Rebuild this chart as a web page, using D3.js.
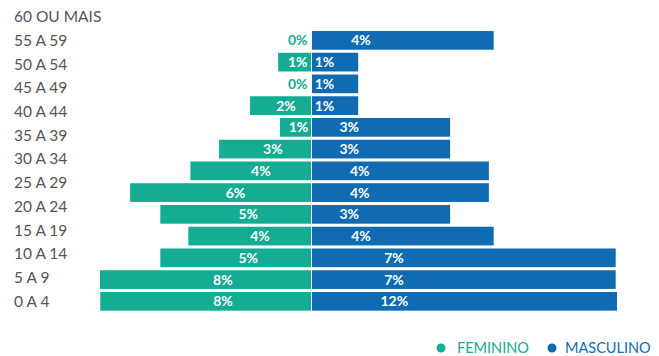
<!DOCTYPE html>
<html>
<head>
<meta charset="utf-8">
<script src="https://cdn.jsdelivr.net/npm/d3@7"></script>
<style>
  body { margin: 0; background: #fff; }
  svg { display: block; font-family: Lato, "Open Sans", sans-serif; }
</style>
</head>
<body>
<div id="chart"></div>
<script>
var categories = ["60 OU MAIS", "55 A 59", "50 A 54", "45 A 49", "40 A 44", "35 A 39",
                  "30 A 34", "25 A 29", "20 A 24", "15 A 19", "10 A 14", "5 A 9", "0 A 4"];

// bar lengths (each side has its own scale in the original)
var feminino = [0, 1.09, 0, 2.02, 1.03, 3.05, 4.0, 6.0, 5.0, 4.07, 5.0, 7.0, 6.99];
var masculino = [4.17, 1.06, 1.06, 1.06, 3.17, 3.17, 4.06, 4.06, 3.17, 4.17, 6.97, 6.97, 7.0];

var femininoLabels = ["0%", "1%", "0%", "2%", "1%", "3%", "4%", "6%", "5%", "4%", "5%", "8%", "8%"];
var masculinoLabels = ["4%", "1%", "1%", "1%", "3%", "3%", "4%", "4%", "3%", "4%", "7%", "7%", "12%"];

var series = ["FEMININO", "MASCULINO"];
var colors = ["#14ac93", "#106bb3"];

var width = 659, height = 356;
var cx = 311.5;

var svg = d3.select("#chart").append("svg")
  .attr("width", width)
  .attr("height", height);

var y = d3.scaleBand()
  .domain(categories)
  .range([29.5, 312.2])
  .paddingInner(0.14)
  .paddingOuter(0.07);

// the category labels sit on their own scale, as in the original
var yLabel = d3.scalePoint()
  .domain(categories)
  .range([16.7, 301]);

var xF = d3.scaleLinear().domain([0, 7]).range([0, 211]);
var xM = d3.scaleLinear().domain([0, 7]).range([0, 305]);

svg.selectAll(".cat")
  .data(categories)
  .enter()
  .append("text")
    .attr("class", "cat")
    .attr("x", 14)
    .attr("y", function(d) { return yLabel(d); })
    .attr("dy", "0.36em")
    .attr("fill", "#555")
    .style("font-size", "15.5px")
    .text(function(d) { return d; });

svg.selectAll(".bar-f")
  .data(feminino)
  .enter()
  .append("rect")
    .attr("class", "bar-f")
    .attr("x", function(d) { return cx - 0.5 - xF(d); })
    .attr("y", function(d, i) { return y(categories[i]); })
    .attr("width", function(d) { return xF(d); })
    .attr("height", y.bandwidth())
    .attr("fill", colors[0]);

svg.selectAll(".bar-m")
  .data(masculino)
  .enter()
  .append("rect")
    .attr("class", "bar-m")
    .attr("x", cx + 0.5)
    .attr("y", function(d, i) { return y(categories[i]); })
    .attr("width", function(d) { return xM(d); })
    .attr("height", y.bandwidth())
    .attr("fill", colors[1]);

svg.selectAll(".label-f")
  .data(feminino)
  .enter()
  .append("text")
    .attr("class", "label-f")
    .attr("x", function(d) { return d > 0 ? cx - 0.42 * xF(d) : cx - 4; })
    .attr("y", function(d, i) { return y(categories[i]) + y.bandwidth() / 2; })
    .attr("dy", "0.36em")
    .attr("text-anchor", function(d) { return d > 0 ? "middle" : "end"; })
    .attr("fill", function(d) { return d > 0 ? "#fff" : colors[0]; })
    .style("font-size", "14px")
    .style("font-weight", "bold")
    .text(function(d, i) { return femininoLabels[i]; });

svg.selectAll(".label-m")
  .data(masculino)
  .enter()
  .append("text")
    .attr("class", "label-m")
    .attr("x", function(d) { return cx + 0.5 + 0.27 * xM(d); })
    .attr("y", function(d, i) { return y(categories[i]) + y.bandwidth() / 2; })
    .attr("dy", "0.36em")
    .attr("text-anchor", "middle")
    .attr("fill", "#fff")
    .style("font-size", "14px")
    .style("font-weight", "bold")
    .text(function(d, i) { return masculinoLabels[i]; });

var legendX = [441, 552];
var legend = svg.selectAll(".legend")
  .data(series)
  .enter()
  .append("g")
    .attr("class", "legend")
    .attr("transform", function(d, i) { return "translate(" + legendX[i] + ",348)"; });

legend.append("circle")
  .attr("r", 4.5)
  .attr("fill", function(d, i) { return colors[i]; });

legend.append("text")
  .attr("x", function(d, i) { return i == 0 ? 16 : 13; })
  .attr("dy", "0.36em")
  .attr("fill", function(d, i) { return colors[i]; })
  .style("font-size", "14.5px")
  .text(function(d) { return d; });
</script>
</body>
</html>
